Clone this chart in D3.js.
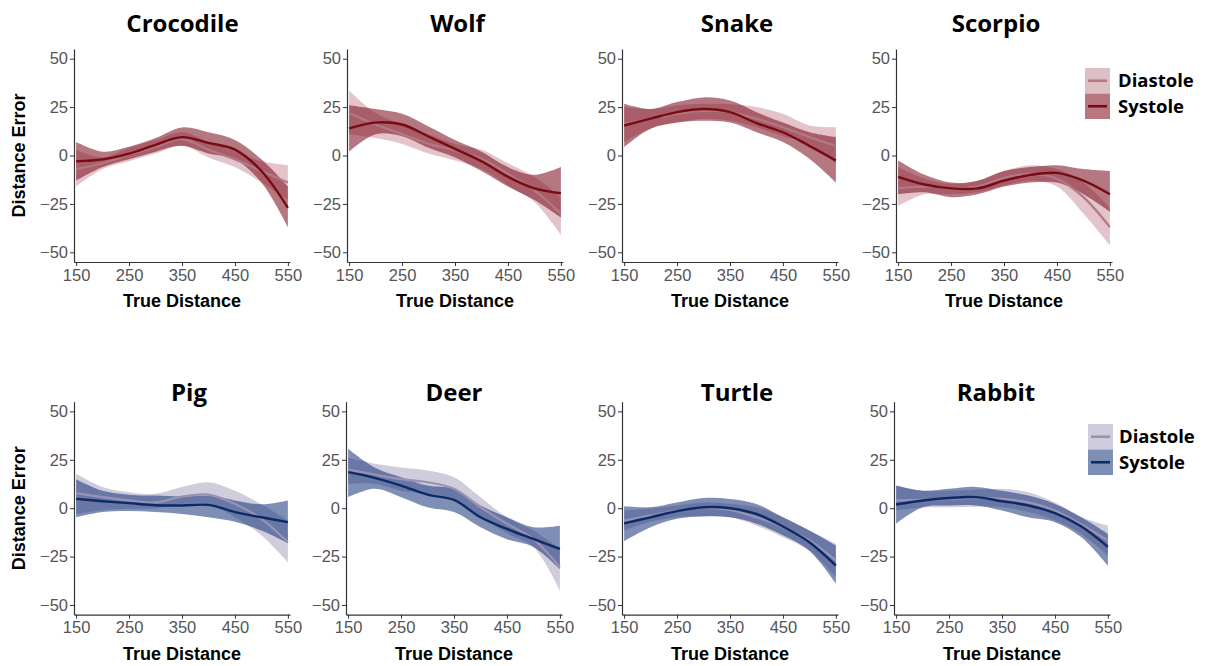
<!DOCTYPE html>
<html><head><meta charset="utf-8">
<script src="https://cdn.jsdelivr.net/npm/d3@7"></script>
<style>body{margin:0;background:#fff}</style></head>
<body><svg id="c" width="1209" height="666"></svg>
<script>
// ---------- data ----------
const panels = ["Crocodile","Wolf","Snake","Scorpio","Pig","Deer","Turtle","Rabbit"];
const trueDistance = [150,200,250,300,350,400,450,500,550];
const xTicks = [150,250,350,450,550];
const yTicks = [-50,-25,0,25,50];
const seriesNames = ["Diastole","Systole"];

const systoleMean = [
  [-3,-2,1,5.5,9.5,6.5,3,-8,-27],
  [14,17,16,9.8,3.4,-3,-11,-17,-19.5],
  [15.5,19,22.4,24,22.4,16.7,12,5,-2.6],
  [-11,-15,-17,-17,-13,-10,-9,-13,-20],
  [4.8,3.6,2.6,1.5,1.4,1.7,-2,-4.7,-7.2],
  [18.6,15.7,11.7,7,4.3,-4.7,-10.7,-15.9,-21],
  [-7.8,-4.7,-1.5,0.5,0,-3,-9.5,-17.6,-29.7],
  [1.9,4,5.3,5.7,3.6,1.4,-2.6,-9.5,-20]
];
const systoleLow = [
  [-13,-6,-2,2,5,1,-2,-14,-37],
  [2,11,10,4,-1,-8,-16,-23,-32],
  [4.3,13.8,17,18,17,12,7,-1.7,-14],
  [-20,-19,-21.5,-20,-16,-14,-14,-20,-29],
  [-4.7,-2,-1.5,-2,-3,-4.7,-7,-11.5,-18],
  [5.7,10,5.7,0.5,-2,-9.8,-16,-20,-31.4],
  [-17,-9.8,-5.5,-4.3,-4.7,-8,-14,-22,-39],
  [-8,0.5,1.4,1.4,-1.2,-4.7,-7.2,-15,-29.7]
];
const systoleHigh = [
  [7,2,4.5,9,14.5,12,8,-2,-16],
  [26,24,21.5,15,8,2,-6,-10,-6],
  [26.7,24,27.6,30,28.4,22.4,17,12,9.5],
  [-2.6,-10,-14,-13,-8,-6,-5,-7,-8],
  [15,9,7,6.5,6,6.5,4,2,4],
  [30.7,21,16,11.7,10,1.4,-4.7,-9.8,-9],
  [1,0.5,3,5.3,4.8,2.2,-4.7,-11.5,-19.3],
  [11.7,9,10,11,9,6.5,2.2,-4.7,-13.3]
];
const diastoleMean = [
  [-7,-4,0.5,4.5,8.5,3,-2,-8,-14],
  [22,16,11,6,2.6,-1.7,-9.5,-18,-30],
  [16.4,19,21.5,23,22.4,19,14.6,9.5,5],
  [-17,-16,-17,-16,-11.5,-9.5,-12,-21.5,-37],
  [7.8,5.7,4,3,6,7,2.2,-5.5,-17.6],
  [20,17.4,15,13.4,10,0.5,-8,-16,-30.5],
  [-6.4,-3.8,-1.2,0.2,-0.9,-4.7,-9.8,-16.7,-27],
  [4,4.3,4.8,5.3,4.8,3,-1.2,-8.4,-16.7]
];
const diastoleLow = [
  [-16,-7,-3,1,5,-1,-6,-14,-23],
  [11,9,6,1,-2.6,-7,-15.5,-24,-41],
  [7,14,17,19,18,14.6,10,6,-4.3],
  [-26,-20,-20,-19,-15.5,-13,-16,-30,-46.5],
  [-3,-1,-0.3,0,2.2,2.2,-4.7,-14,-28],
  [12.6,12.6,9,7.4,4.8,-4.7,-13,-20,-42.6],
  [-11.5,-7,-4.7,-4,-4.7,-9,-15,-22,-35.7],
  [-1.2,0.3,0.5,0.8,0.5,-2,-6.4,-13.3,-24.5]
];
const diastoleHigh = [
  [3,-1,4,8,12,7,2,-3,-5],
  [33.6,22,16,11,6,3,-4,-11,-21.5],
  [25,24,26,26.7,26.5,25,21.5,15.5,14.6],
  [-6,-12,-14.6,-13,-8,-5,-7,-14,-27],
  [17.8,11,8.3,7.5,11,13.4,9,2,-6.4],
  [26,23,21,19.5,16,5.7,-4.7,-11.5,-21],
  [-1.2,0,1.4,3,2.2,0.5,-4.7,-11.5,-18.4],
  [11.7,9,9,9.5,10,8.3,3,-4.7,-9]
];

// ---------- styles / layout ----------
const palettes = [
  { dRib:"rgba(160,60,80,0.30)", dLine:"#b27884", sRib:"rgba(120,10,25,0.55)", sLine:"#780a14",
    dKey:"#dcc0c6", sKey:"#b8777f" },
  { dRib:"rgba(110,100,150,0.33)", dLine:"#9a92b4", sRib:"rgba(20,50,120,0.55)", sLine:"#0c2a66",
    dKey:"#cfccdc", sKey:"#7e8fb6" }
];
const rowTop = [49, 401.7];
const plotH = 213, plotW = 216;
const lefts = [[74,347,622,896],[74,346,622,894]];
const titleBase = [32, 401];
const titleX = [182.5, 457.5, 737, 996, 189, 454, 737, 996];
const legendPos = [{x:1085,y:68,tx:1118},{x:1088,y:424,tx:1119}];

const svg = d3.select("#c");
const curve = d3.curveCatmullRom.alpha(0.5);

panels.forEach((name, i) => {
  const r = Math.floor(i/4), c = i % 4;
  const pal = palettes[r];
  const L = lefts[r][c], T = rowTop[r];
  const x = d3.scaleLinear().domain([146,554]).range([L, L+plotW]);
  const y = d3.scaleLinear().domain([-55,55]).range([T+plotH, T]);
  const g = svg.append("g");

  const mk = (lo, hi) => trueDistance.map((d,k)=>({x:d, lo:lo[i][k], hi:hi[i][k]}));
  const area = d3.area().x(d=>x(d.x)).y0(d=>y(d.lo)).y1(d=>y(d.hi)).curve(curve);
  const line = d3.line().x(d=>x(d.x)).y(d=>y(d.m)).curve(curve);

  g.append("path").attr("d", area(mk(diastoleLow, diastoleHigh))).attr("fill", pal.dRib);
  g.append("path").attr("d", area(mk(systoleLow, systoleHigh))).attr("fill", pal.sRib);
  g.append("path").attr("d", line(trueDistance.map((d,k)=>({x:d,m:diastoleMean[i][k]}))))
    .attr("fill","none").attr("stroke", pal.dLine).attr("stroke-width", 2.2);
  g.append("path").attr("d", line(trueDistance.map((d,k)=>({x:d,m:systoleMean[i][k]}))))
    .attr("fill","none").attr("stroke", pal.sLine).attr("stroke-width", 2.4);

  // axes
  const ax = g.append("g").attr("transform", `translate(0,${T+plotH})`)
    .call(d3.axisBottom(x).tickValues(xTicks).tickSize(4).tickSizeOuter(0).tickPadding(3));
  const ay = g.append("g").attr("transform", `translate(${L},0)`)
    .call(d3.axisLeft(y).tickValues(yTicks).tickSize(4).tickSizeOuter(0).tickPadding(2));
  [ax, ay].forEach(a => {
    a.select(".domain").attr("stroke", "#333").attr("stroke-width", 1.2);
    a.selectAll(".tick line").attr("stroke", "#333").attr("stroke-width", 1);
    a.selectAll(".tick text").attr("fill", "#555")
      .style("font-family", "'Liberation Sans', Arial, sans-serif").style("font-size", "16.5px");
  });

  // panel title
  g.append("text").attr("x", titleX[i]).attr("y", titleBase[r]).attr("text-anchor","middle")
    .style("font-family","'Open Sans', 'Noto Sans', sans-serif").style("font-weight","700")
    .style("font-size","24px").attr("fill","#000").text(name);

  // x axis title
  g.append("text").attr("x", L + plotW/2).attr("y", T + plotH + 45).attr("text-anchor","middle")
    .style("font-family","'Liberation Sans', Arial, sans-serif").style("font-weight","700")
    .style("font-size","18px").attr("fill","#000").text("True Distance");

  if (c === 0) {
    g.append("text").attr("transform", `translate(25,${T+plotH/2}) rotate(-90)`)
      .attr("text-anchor","middle")
      .style("font-family","'Liberation Sans', Arial, sans-serif").style("font-weight","700")
      .style("font-size","18px").attr("fill","#000").text("Distance Error");
  }
});

// legends
legendPos.forEach((p, r) => {
  const pal = palettes[r];
  const lg = svg.append("g");
  seriesNames.forEach((s, k) => {
    const yy = p.y + k*25.5;
    lg.append("rect").attr("x", p.x).attr("y", yy).attr("width", 25).attr("height", 25.5)
      .attr("fill", k===0 ? pal.dKey : pal.sKey);
    lg.append("line").attr("x1", p.x+3).attr("x2", p.x+22).attr("y1", yy+12.75).attr("y2", yy+12.75)
      .attr("stroke", k===0 ? pal.dLine : pal.sLine).attr("stroke-width", 2.6);
    lg.append("text").attr("x", p.tx).attr("y", yy + 19.3)
      .style("font-family","'Open Sans', 'Noto Sans', sans-serif").style("font-weight","700")
      .style("font-size","18.5px").attr("fill","#000").text(s);
  });
});
</script>
</body></html>
